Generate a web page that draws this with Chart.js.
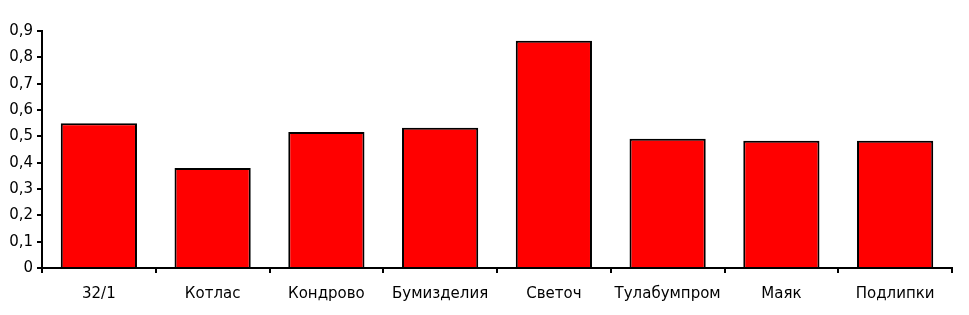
<!DOCTYPE html>
<html>
<head>
<meta charset="utf-8">
<script src="https://cdn.jsdelivr.net/npm/chart.js@4"></script>
<style>
  html, body { margin: 0; padding: 0; background: #fff; }
  #wrap { width: 969px; height: 315px; }
</style>
</head>
<body>
<div id="wrap"><canvas id="chart" width="969" height="315"></canvas></div>
<script>
// Data
const categories = ['32/1', 'Котлас', 'Кондрово', 'Бумизделия', 'Светоч', 'Тулабумпром', 'Маяк', 'Подлипки'];
const values = [0.55, 0.38, 0.516, 0.533, 0.863, 0.491, 0.483, 0.483];
const yTicks = [0, 0.1, 0.2, 0.3, 0.4, 0.5, 0.6, 0.7, 0.8, 0.9];

Chart.defaults.font.family = "'DejaVu Sans', sans-serif";
Chart.defaults.font.size = 15;
Chart.defaults.color = '#000';

new Chart(document.getElementById('chart'), {
    type: 'bar',
    data: {
        labels: categories,
        datasets: [{
            data: values,
            backgroundColor: '#ff0000',
            borderColor: '#000',
            borderWidth: 2,
            borderSkipped: 'bottom',
            barPercentage: 0.67,
            categoryPercentage: 1.0
        }]
    },
    options: {
        responsive: false,
        animation: false,
        layout: { padding: { top: 31, right: 17, left: 0, bottom: 0 } },
        plugins: {
            legend: { display: false },
            tooltip: { enabled: false }
        },
        scales: {
            x: {
                offset: true,
                grid: {
                    display: true,
                    drawOnChartArea: false,
                    offset: true,
                    color: '#000',
                    lineWidth: 2,
                    tickLength: 5
                },
                border: { color: '#000', width: 2 },
                ticks: { padding: 12, maxRotation: 0 },
                afterFit: (scale) => { scale.height = 47; }
            },
            y: {
                min: 0,
                max: 0.9,
                afterBuildTicks: (scale) => {
                    scale.ticks = yTicks.map(v => ({ value: v }));
                },
                grid: {
                    drawOnChartArea: false,
                    color: '#000',
                    lineWidth: 2,
                    tickLength: 5
                },
                border: { color: '#000', width: 2 },
                ticks: {
                    padding: 4,
                    callback: (v) => v === 0 ? '0' : v.toFixed(1).replace('.', ',')
                },
                afterFit: (scale) => { scale.width = 42; }
            }
        }
    }
});
</script>
</body>
</html>
